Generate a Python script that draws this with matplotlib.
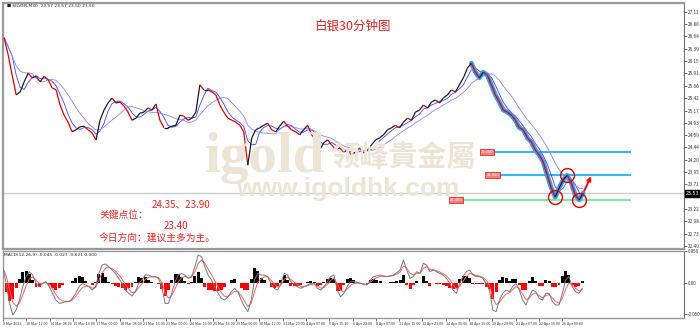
import numpy as np
import pandas as pd
import matplotlib
matplotlib.use('Agg')
import matplotlib.pyplot as plt
from matplotlib.collections import LineCollection

plt.rcParams['font.family'] = ['Noto Sans CJK SC', 'DejaVu Sans']

# ---------------- data ----------------
closes = [26.61, 26.27, 25.87, 25.48, 25.54, 25.74, 25.91, 25.82, 25.85, 25.74,
          25.85, 25.78, 25.62, 25.58, 25.28, 25.08, 24.94, 24.75, 24.79, 24.85,
          24.86, 24.79, 24.73, 24.59, 24.98, 25.18, 25.32, 25.42, 25.32, 25.34,
          25.26, 25.14, 24.98, 25.02, 25.12, 25.14, 25.22, 25.18, 25.30, 24.98,
          24.83, 24.83, 24.86, 24.88, 25.08, 25.06, 24.98, 25.02, 25.14, 25.68,
          25.58, 25.58, 25.54, 25.48, 25.28, 25.14, 25.02, 24.98, 24.94, 24.88,
          24.75, 24.09, 24.63, 24.79, 24.83, 24.88, 24.92, 24.79, 24.75, 24.86,
          24.96, 24.86, 24.79, 24.75, 24.69, 24.79, 24.88, 24.69, 24.59, 24.39,
          24.53, 24.59, 24.49, 24.39, 24.43, 24.35, 24.39, 24.29, 24.35, 24.43,
          24.33, 24.39, 24.49, 24.59, 24.63, 24.69, 24.79, 24.83, 24.88, 24.83,
          24.94, 25.02, 24.98, 25.14, 25.18, 25.28, 25.22, 25.34, 25.38, 25.32,
          25.42, 25.48, 25.58, 25.54, 25.68, 25.82, 26.01, 26.11, 25.93, 25.82,
          25.93, 25.87, 25.68, 25.48, 25.34, 25.18, 25.14, 25.08, 24.98, 24.83,
          24.79, 24.63, 24.55, 24.39, 24.29, 24.15, 23.89, 23.64, 23.46, 23.64,
          23.80, 23.89, 23.74, 23.50, 23.40, 23.54]

ma_fast_window = 3
ma_slow_window = 8

wave_start = 117                 # start of highlighted down-leg
swing_points = [-8, -5, -2]      # circled lows / high (counted from the end)
arrow_target = 23.92

levels = [24.35, 23.90, 23.40]
level_labels = ['24.350', '23.900', '23.400']
level_colors = ['#35b8f2', '#35b8f2', '#80eaa8']
bid_price = 23.53

macd_line = [0.0226, -0.0011, -0.0326, -0.0510, -0.0431, -0.0274, -0.0063, 0.0095, 0.0174, 0.0121,
             -0.0011, -0.0063, -0.0011, 0.0016, -0.0063, -0.0168, -0.0274, -0.0326, -0.0316, -0.0300,
             -0.0300, -0.0247, -0.0168, -0.0063, -0.0011, -0.0037, -0.0063, -0.0116, -0.0063, 0.0147,
             0.0279, 0.0295, 0.0252, 0.0200, 0.0147, 0.0068, -0.0011, -0.0116, -0.0168, -0.0210,
             -0.0142, -0.0011, 0.0042, 0.0121, 0.0121, 0.0095, 0.0095, 0.0068, -0.0063, -0.0326,
             -0.0326, -0.0168, 0.0016, 0.0121, 0.0147, 0.0121, 0.0068, 0.0095, 0.0252, 0.0437,
             0.0410, 0.0252, 0.0121, 0.0042, -0.0063, -0.0168, -0.0247, -0.0274, -0.0221, -0.0142,
             -0.0089, -0.0142, -0.0274, -0.0379, -0.0458, -0.0274, 0.0042, 0.0147, 0.0121, 0.0121,
             0.0095, -0.0011, -0.0089, -0.0116, -0.0011, 0.0147, 0.0121, 0.0016, -0.0037, -0.0063,
             -0.0089, -0.0063, -0.0037, -0.0011, -0.0011, -0.0089, -0.0116, -0.0063, 0.0016, 0.0095,
             0.0121, -0.0116, -0.0221, -0.0168, -0.0063, 0.0016,
             0.0016, 0.0005, -0.0011, -0.0026, -0.0037, 0.0042, 0.0095, 0.0110, 0.0121, 0.0105,
             0.0095, 0.0110, 0.0121, 0.0158, 0.0200, 0.0358, 0.0200, 0.0068, 0.0095, 0.0174,
             0.0147, 0.0305, 0.0279, 0.0174, 0.0200, 0.0174, 0.0147, 0.0121, 0.0068, -0.0011,
             -0.0116, -0.0168, -0.0011, 0.0095, 0.0174, 0.0200, 0.0121, 0.0095, 0.0095, 0.0068,
             -0.0011, -0.0116, -0.0431, -0.0458, -0.0274, -0.0168, -0.0116, -0.0142, -0.0063, -0.0011,
             -0.0116, -0.0274, -0.0352, -0.0221, -0.0116, -0.0142, -0.0247, -0.0274, -0.0168, -0.0168,
             -0.0300, -0.0352, -0.0352, -0.0168, 0.0042, 0.0095, -0.0063, -0.0142, -0.0168, -0.0089]

x_labels = ["9 Mar 2022", "10 Mar 12:00", "14 Mar 08:00", "15 Mar 16:00", "17 Mar 00:00",
            "18 Mar 08:00", "21 Mar 16:00", "23 Mar 00:00", "24 Mar 16:00", "25 Mar 16:00",
            "29 Mar 00:00", "30 Mar 12:00", "31 Mar 20:00", "4 Apr 07:00", "5 Apr 15:30",
            "6 Apr 23:00", "8 Apr 07:00", "11 Apr 15:00", "12 Apr 23:00", "14 Apr 06:00",
            "18 Apr 15:00", "19 Apr 23:00", "21 Apr 07:00", "22 Apr 15:00", "26 Apr 00:00"]

price_ticks = [22.49, 22.73, 22.98, 23.22, 23.47, 23.71, 23.95, 24.20, 24.44, 24.69,
               24.93, 25.17, 25.42, 25.66, 25.91, 26.15, 26.39, 26.64, 26.88, 27.13]

title = "白银30分钟图"
header = "SILVER,M30  23.57 23.57 23.50 23.50"
macd_header = "MACD(12,26,9) -0.045 -0.027 -0.021 0.000"
note_lines = ["24.35、23.90", "关键点位：", "23.40", "今日方向：建议主多为主。"]

# ---------------- figure ----------------
W, H = 700, 328
fig = plt.figure(figsize=(W / 100, H / 100), dpi=100)
fig.patch.set_facecolor('white')

def fx(x):
    return x / W

def fy(y):
    return 1 - y / H

ax = fig.add_axes([fx(3), fy(249), (684 - 3) / W, (249 - 3) / H])
ax2 = fig.add_axes([fx(3), fy(318), (684 - 3) / W, (318 - 251) / H])

c = np.array(closes)
idx = np.arange(len(c))
XMAX = (684 - 3) / 4

# watermark
wm = '#ece5d6'
fig.text(fx(205), fy(172), "igold", fontsize=41, fontweight='bold', color=wm,
         family='Liberation Serif', zorder=0)
fig.text(fx(330), fy(157), "领峰貴金屬", fontsize=21, color=wm, va='center',
         family=['Noto Sans CJK TC', 'Noto Sans CJK SC'], fontweight='bold', zorder=0)
fig.text(fx(236), fy(196), "www.igoldhk.com", fontsize=19, color=wm, fontweight='bold',
         family='Liberation Sans', zorder=0)
ax.patch.set_alpha(0)

# bid line
ax.axhline(bid_price, color='#cccccc', lw=1.0, zorder=1)

# level lines
starts = [122.75, 124.25, 115.0]
for lv, lab, col, st in zip(levels, level_labels, level_colors, starts):
    ax.hlines(lv, st, (631 - 3) / 4, color=col, lw=1.5, zorder=2)
    ax.text(st - 0.3, lv, lab, fontsize=2.6, color='white', ha='right', va='center',
            family='DejaVu Sans',
            bbox=dict(boxstyle='square,pad=0.25', fc='#f08080', ec='red', lw=0.5), zorder=3)

# moving averages
s = pd.Series(c)
ax.plot(idx, s.rolling(ma_fast_window, min_periods=1).mean(), color='#4040ff', lw=0.6, zorder=3)
ax.plot(idx, s.rolling(ma_slow_window, min_periods=1).mean(), color='#8585ff', lw=0.6, zorder=3)

# thick blue down-leg
ax.plot(idx[wave_start:], c[wave_start:], color='#3a9cf0', lw=3.4, zorder=3,
        solid_capstyle='round', solid_joinstyle='round')

# price path (segments coloured like candles)
segs = [[(idx[i - 1], c[i - 1]), (idx[i], c[i])] for i in range(1, len(c))]
cols = ['#1a1a1a' if c[i] >= c[i - 1] else '#e00000' for i in range(1, len(c))]
ax.add_collection(LineCollection(segs, colors=cols, linewidths=0.9, zorder=4))

# circled swing points
for sp in swing_points:
    ax.plot(idx[sp], c[sp], 'o', ms=10, mfc='none', mec='#e00000', mew=1.0, zorder=5)

# red projection arrow
ax.annotate('', xy=(idx[-1] + 2.3, arrow_target), xytext=(idx[-1], c[-1]),
            arrowprops=dict(arrowstyle='-|>', color='red', lw=1.4, mutation_scale=6), zorder=6)

ax.set_xlim(-0.3, XMAX)
ax.set_ylim(24.35 - (249 - 152) / 50.5, 24.35 + (152 - 3) / 50.5)
ax.yaxis.tick_right()
ax.set_yticks(price_ticks)
ax.set_yticklabels([f"{t:.2f}" for t in price_ticks])
ax.tick_params(axis='y', labelsize=3.4, length=2, width=0.5, pad=1, colors='#333333')
ax.set_xticks([])
for sp_name in ['left', 'top', 'bottom']:
    ax.spines[sp_name].set_color('#9a9a9a')
    ax.spines[sp_name].set_linewidth(1.6)
ax.spines['right'].set_color('#707070')
ax.spines['right'].set_linewidth(0.8)

# bid price tag
ax.text(1.003, bid_price, f"{bid_price:.2f}", transform=ax.get_yaxis_transform(),
        fontsize=3.4, color='white', va='center', ha='left', family='DejaVu Sans',
        bbox=dict(boxstyle='square,pad=0.2', fc='black', ec='black'), zorder=10, clip_on=False)

# header and title
fig.text(fx(7), fy(6), "■ " + header, fontsize=3.2, color='#222222', va='center',
         family='DejaVu Sans')
fig.text(fx(352), fy(26), title, fontsize=9, color='#e02020', ha='center', va='center')

# key levels note
note_col = '#ff2020'
fig.text(fx(181), fy(204), note_lines[0], fontsize=7, color=note_col, ha='center', va='center')
fig.text(fx(100), fy(215), note_lines[1], fontsize=7, color=note_col, ha='left', va='center')
fig.text(fx(176), fy(226), note_lines[2], fontsize=7, color=note_col, ha='center', va='center')
fig.text(fx(99), fy(238), note_lines[3], fontsize=7, color=note_col, ha='left', va='center')

# ---------------- MACD panel ----------------
m = pd.Series(macd_line)
signal = m.ewm(span=3, adjust=False).mean()
hist = (m - signal) * 1.3
mx = np.linspace((1.7 - 3) / 4, (582 - 3) / 4, len(m))
step = mx[1] - mx[0]
hcols = ['black' if v >= 0 else '#ff0000' for v in hist]
ax2.bar(mx, hist, width=step * 0.9, color=hcols, zorder=2)
ax2.plot(mx, signal, color='#ff6060', lw=0.7, zorder=3)
ax2.plot(mx, m, color='#777777', lw=0.7, zorder=4)
ax2.set_xlim(-0.3, XMAX)
ylo = -0.0557
ax2.set_ylim(ylo, 0.05)
ax2.yaxis.tick_right()
ax2.set_yticks([0.05, 0.0, -0.05])
ax2.set_yticklabels(['0.050', '0.00', '-0.050'])
ax2.tick_params(axis='y', labelsize=3.2, length=2, width=0.5, pad=1, colors='#333333')
xt = [(2 + 23.33 * k - 3) / 4 for k in range(len(x_labels))]
ax2.set_xticks(xt)
ax2.set_xticklabels(x_labels, ha='left')
ax2.tick_params(axis='x', labelsize=2.7, length=2, width=0.5, pad=1, colors='#333333')
for sp_name in ['left', 'top', 'bottom']:
    ax2.spines[sp_name].set_color('#9a9a9a')
    ax2.spines[sp_name].set_linewidth(1.0)
ax2.spines['right'].set_color('#707070')
ax2.spines['right'].set_linewidth(0.8)
ax2.text(0.002, 0.97, macd_header, transform=ax2.transAxes, fontsize=3.2, va='top',
         color='#222222', family='DejaVu Sans')

fig.savefig('out.png', dpi=100, facecolor='white')
